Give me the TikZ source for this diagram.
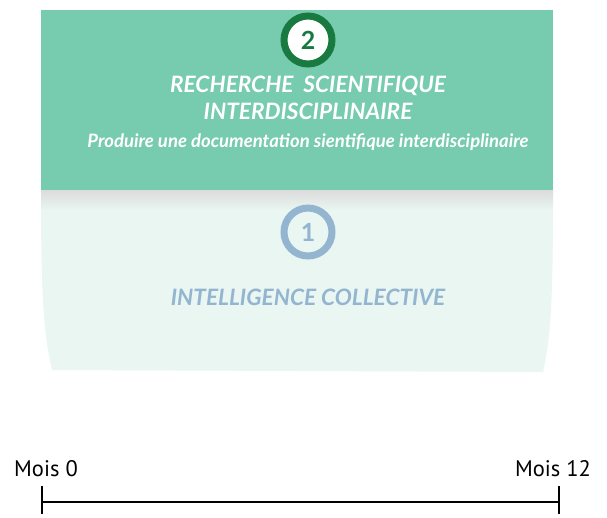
\documentclass[tikz,border=0pt]{standalone}
\usepackage{fontspec}
\setmainfont{Lato}
\newfontfamily\axisfont{PT Sans}
\usetikzlibrary{positioning}

\definecolor{mintgreen}{HTML}{77CBAE}
\definecolor{palemint}{HTML}{E9F6F1}
\definecolor{darkgreen}{HTML}{187A3E}
\definecolor{steelblue}{HTML}{93B5D0}

\begin{document}
\begin{tikzpicture}[x=1pt,y=-1pt,
  phasebox/.style={fill=mintgreen,minimum width=512pt,minimum height=180pt,inner sep=0pt},
  badge/.style={circle,line width=7pt,minimum size=48pt,inner sep=0pt,font=\bfseries\fontsize{25}{25}\selectfont},
  heading/.style={align=center,font=\bfseries\itshape\fontsize{22.6}{27}\selectfont},
  subline/.style={text=white,font=\bfseries\itshape\fontsize{18.5}{20}\selectfont},
  axislabel/.style={font=\axisfont\fontsize{22.5}{22.5}\selectfont},
  tick/.style={line width=1.2pt}]
\useasboundingbox (0,0) rectangle (607,517);
% Phase 1 : the pale block behind
\fill[palemint] (41,190) -- (553,190) .. controls (553,300) and (551,335) .. (543,372)
  -- (52,370) .. controls (44,335) and (41,300) .. (41,190) -- cycle;
\shade[top color=black!14,bottom color=palemint] (41,190) rectangle (553,210);
\node[badge,draw=steelblue,fill=palemint,text=steelblue] (one) at (308,232) {1};
\node[heading,text=steelblue] (collective) at (308,297) {INTELLIGENCE COLLECTIVE};
% Phase 2 : the green block
\node[phasebox] (research) at (297,100) {};
\node[badge,draw=darkgreen,fill=white,text=darkgreen] (two) at (308,40) {2};
\node[heading,text=white] (title) at (308,98) {RECHERCHE\ \ SCIENTIFIQUE\\INTERDISCIPLINAIRE};
\node[subline] (goal) at (308,142) {Produire une documentation sientifique interdisciplinaire};
% Time axis
\coordinate (start) at (42,502);
\coordinate (end) at (559,502);
\node[axislabel] (m0) at (46,469) {Mois 0};
\node[axislabel] (m12) at (553,469) {Mois 12};
\draw[tick] (start) -- (end);
\draw[tick] ([yshift=-12pt]start) -- ([yshift=16pt]start);
\draw[tick] ([yshift=-12pt]end) -- ([yshift=16pt]end);
\end{tikzpicture}
\end{document}
